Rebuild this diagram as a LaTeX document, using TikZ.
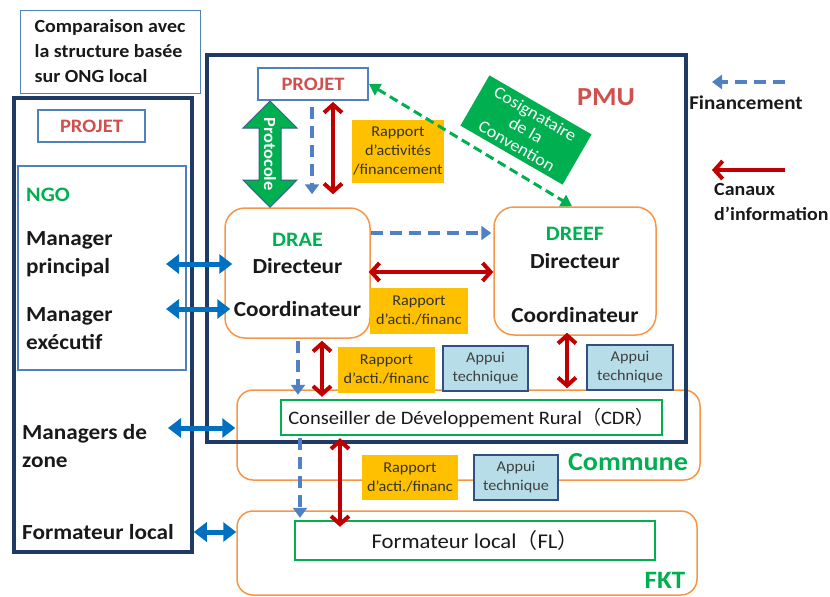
\documentclass[tikz,border=0pt]{standalone}
\usepackage{fontspec}
\setmainfont{Carlito}[FakeStretch=1.08]
\newfontfamily\cjk{Noto Sans CJK JP}
\usetikzlibrary{arrows.meta}

\definecolor{navy}{HTML}{1F3A64}
\definecolor{boxbl}{HTML}{4F81BD}
\definecolor{dashbl}{HTML}{4F81C4}
\definecolor{linkbl}{HTML}{0070C0}
\definecolor{infred}{HTML}{C00000}
\definecolor{projred}{HTML}{D0504D}
\definecolor{grn}{HTML}{00B050}
\definecolor{orng}{HTML}{F79646}
\definecolor{gold}{HTML}{FFC000}
\definecolor{lblue}{HTML}{B7DEE8}
\definecolor{apbd}{HTML}{2F5080}
\definecolor{arrowbd}{HTML}{385D8A}

\newcommand\fsz[2]{\fontsize{#1}{#2}\selectfont}

\tikzset{
  frame/.style={draw=navy, line width=3.5pt, inner sep=0pt},
  thinframe/.style={draw=boxbl, line width=1.4pt, inner sep=0pt},
  projbox/.style={draw=boxbl, line width=2pt, fill=white, inner sep=0pt,
    text=projred, font=\bfseries\fsz{19}{22}},
  roundbox/.style={draw=orng, line width=1.5pt, rounded corners=#1, inner sep=0pt},
  gbox/.style={draw=grn, line width=2.4pt, inner sep=0pt},
  rapbox/.style={fill=gold, text=black!80, align=center, inner sep=0pt,
    font=\fsz{15}{19}},
  appbox/.style={fill=lblue, draw=apbd, line width=1.5pt, text=black!75,
    align=center, inner sep=0pt, font=\fsz{15}{19}},
  lbl/.style={inner sep=0pt, text=black!90, font=\bfseries\fsz{21.5}{28}, align=left},
  glbl/.style={inner sep=0pt, text=grn, font=\bfseries\fsz{20.5}{27}},
  infoarr/.style={draw=infred, line width=4pt,
    {Straight Barb[length=8pt,width=18pt]}-{Straight Barb[length=8pt,width=18pt]}},
  fundarr/.style={draw=dashbl, line width=4pt, dash pattern=on 12pt off 7pt,
    -{Triangle[length=10pt,width=14pt]}},
  linkarr/.style={draw=linkbl, line width=5pt,
    {Triangle[length=13pt,width=19pt]}-{Triangle[length=13pt,width=19pt]}},
  signarr/.style={draw=grn, line width=3pt, dash pattern=on 9pt off 5pt,
    {Triangle[length=11pt,width=13pt]}-{Triangle[length=11pt,width=13pt]}},
}

\begin{document}
\begin{tikzpicture}[x=1pt,y=-1pt]
\useasboundingbox (0,0) rectangle (830,597);

% caption box
\node[thinframe, line width=1pt, minimum width=180pt, minimum height=83pt,
      text=black!90, font=\bfseries\fsz{18.5}{25}, align=left] (title) at (110,51.5)
  {Comparaison avec\\la structure basée\\sur ONG local};

% left column: NGO based structure
\node[frame, minimum width=178pt, minimum height=454pt] (ngo) at (103,325) {};
\node[projbox, minimum width=107pt, minimum height=32pt] (projL) at (91.5,126) {PROJET};
\node[thinframe, minimum width=168pt, minimum height=204pt] (ngoin) at (102,268) {};
\node[glbl, anchor=west] (ngolbl) at (26,195) {NGO};
\node[lbl, anchor=west] (mp) at (26,254) {Manager\\principal};
\node[lbl, anchor=west] (me) at (26,329) {Manager\\exécutif};
\node[lbl, anchor=west] (mz) at (22,446) {Managers de\\zone};
\node[lbl, anchor=west] (fml) at (22,532) {Formateur local};

% commune and fokontany levels
\node[roundbox=16pt, minimum width=463pt, minimum height=90pt] (commune) at (468.5,435) {};
\node[roundbox=16pt, minimum width=460pt, minimum height=84pt] (fkt) at (467,553) {};
\node[glbl, font=\bfseries\fsz{26}{30}] (communelbl) at (628,462) {Commune};
\node[glbl, font=\bfseries\fsz{25}{30}] (fktlbl) at (665,580) {FKT};
\node[gbox, minimum width=381pt, minimum height=35pt, text=black!90, font=\fsz{19}{22}] (cdr) at (471.5,417.5)
  {Conseiller de Développement Rural{\cjk （}CDR{\cjk ）}};
\node[gbox, minimum width=360pt, minimum height=39pt, text=black!90, font=\fsz{21}{24}] (fl) at (475,540.5)
  {Formateur local{\cjk （}FL{\cjk ）}};

% project management unit
\node[frame, minimum width=479pt, minimum height=387pt] (pmu) at (446.5,248.5) {};
\node[inner sep=0pt, text=projred, font=\bfseries\fsz{26}{28}] (pmulbl) at (606,97) {PMU};
\node[projbox, minimum width=110pt, minimum height=32pt] (projT) at (313,84) {PROJET};

\node[roundbox=20pt, minimum width=145pt, minimum height=130pt] (drae) at (297.5,273) {};
\node[glbl] at (297.5,240) {DRAE};
\node[lbl] at (297.5,266) {Directeur};
\node[lbl] at (297.5,309) {Coordinateur};

\node[roundbox=20pt, minimum width=162pt, minimum height=128pt] (dreef) at (575,271) {};
\node[glbl] at (575,234) {DREEF};
\node[lbl] at (575,261) {Directeur};
\node[lbl] at (575,315) {Coordinateur};

% report and support labels
\node[rapbox, minimum width=92pt, minimum height=63pt] (rapA) at (398,151.5)
  {Rapport\\d’activités\\/financement};
\node[rapbox, minimum width=98pt, minimum height=46pt] (rapB) at (419,311)
  {Rapport\\d’acti./financ};
\node[rapbox, minimum width=97pt, minimum height=46pt] (rapC) at (386.5,370)
  {Rapport\\d’acti./financ};
\node[appbox, minimum width=85pt, minimum height=45pt] (apC) at (485.5,368.5)
  {Appui\\technique};
\node[appbox, minimum width=86pt, minimum height=45pt] (apD) at (630,367.5)
  {Appui\\technique};
\node[rapbox, minimum width=96pt, minimum height=45pt] (rapE) at (410,477.5)
  {Rapport\\d’acti./financ};
\node[appbox, minimum width=84pt, minimum height=45pt] (apE) at (516,477.5)
  {Appui\\technique};

% convention co-signatory
\node[fill=grn, rotate=-30, minimum width=118pt, minimum height=58pt, inner sep=0pt,
      text=white, align=center, font=\fsz{17}{18.5}] (cosig) at (526,130)
  {Cosignataire\\de la\\Convention};

% protocol block arrow between PROJET and DRAE
\fill[grn, draw=arrowbd, line width=1pt]
  (projT.south -| 270,0) -- (297,128) -- (281,128) -- (281,180) -- (297,180)
  -- (drae.north -| 270,0) -- (243,180) -- (259,180) -- (259,128) -- (243,128) -- cycle;
\node[rotate=-90, text=white, inner sep=0pt, font=\bfseries\fsz{17}{18}] (proto) at (270,154) {Protocole};

% funding flows
\draw[fundarr, shorten <=6pt, shorten >=13pt] (projT.south -| 312,0) -- (drae.north -| 312,0);
\draw[fundarr, shorten >=2pt] (drae.east |- 0,233) -- (dreef.west |- 0,233);
\draw[fundarr, shorten <=2pt, shorten >=4pt] (drae.south -| 298,0) -- (cdr.north -| 298,0);
\draw[fundarr, shorten <=2pt, shorten >=2pt] (cdr.south -| 300,0) -- (fl.north -| 300,0);

% information channels
\draw[infoarr, shorten <=1pt, shorten >=13pt] (projT.south -| 333,0) -- (drae.north -| 333,0);
\draw[infoarr, shorten <=-2pt] (drae.east |- 0,272) -- (dreef.west |- 0,272);
\draw[infoarr, shorten <=2pt, shorten >=2pt] (drae.south -| 322,0) -- (cdr.north -| 322,0);
\draw[infoarr, shorten <=-3pt, shorten >=1pt] (dreef.south -| 567,0) -- (commune.north -| 567,0);
\draw[infoarr, shorten <=2pt, shorten >=-7pt] (cdr.south -| 340,0) -- (fl.north -| 340,0);

% convention link
\draw[signarr] (projT.east) -- (dreef.north -| 572,0);

% NGO counterparts
\coordinate (mpEnd) at (166,264);
\coordinate (meEnd) at (166,309);
\coordinate (mzEnd) at (168,428);
\draw[linkarr] (mpEnd) -- ([xshift=8pt]drae.west |- mpEnd);
\draw[linkarr] (meEnd) -- ([xshift=6pt]drae.west |- meEnd);
\draw[linkarr] (mzEnd) -- ([xshift=-1pt]commune.west |- mzEnd);
\draw[linkarr] (ngo.east |- 0,532) -- (fkt.west |- 0,532);

% legend
\coordinate (finTail) at (785,82);
\coordinate (finHead) at (712,82);
\coordinate (infTail) at (785,170);
\coordinate (infHead) at (712,170);
\draw[fundarr] (finTail) -- (finHead);
\draw[draw=infred, line width=4pt, -{Straight Barb[length=8pt,width=18pt]}] (infTail) -- (infHead);
\node[inner sep=0pt, text=black!90, font=\bfseries\fsz{19.5}{24}] (finlbl) at (746,103) {Financement};
\node[inner sep=0pt, anchor=north west, align=left, text=black!90, font=\bfseries\fsz{18.5}{25}] (inflbl) at (714,183)
  {Canaux\\d’information};
\end{tikzpicture}
\end{document}
